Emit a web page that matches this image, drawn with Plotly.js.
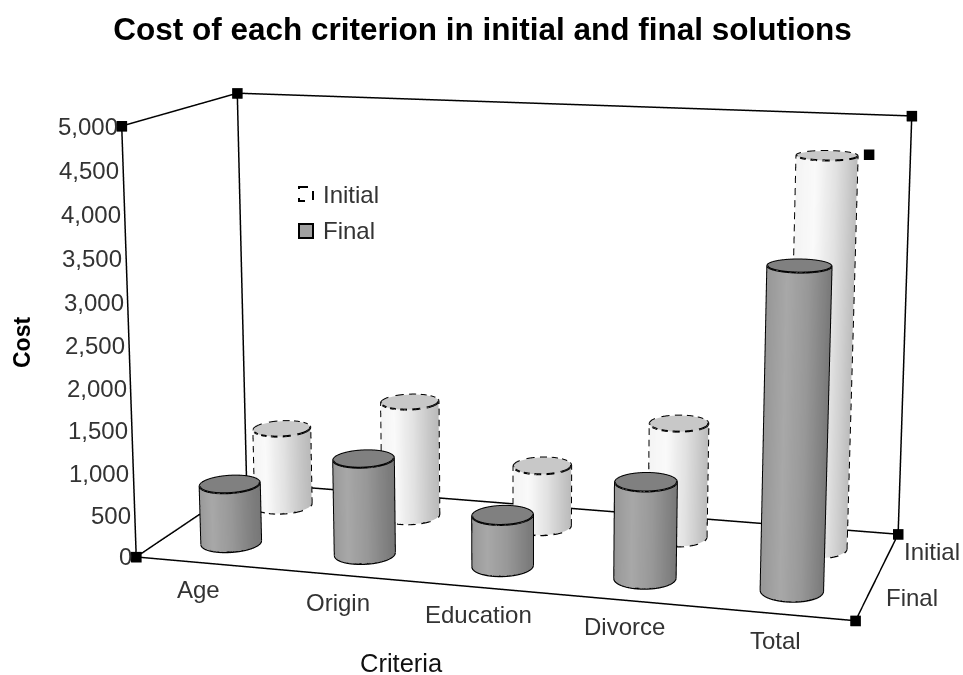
<!DOCTYPE html>
<html><head><meta charset="utf-8"><script src="https://cdn.plot.ly/plotly-3.0.1.min.js"></script>
<style>html,body{margin:0;background:#fff;overflow:hidden;width:963px;height:675px}#chart{position:absolute;left:-527px;top:-699px;width:2100px;height:2072px}</style></head><body><div id="chart"></div>
<script>
const categories=['Age','Origin','Education','Divorce','Total'];
const depthLabels=['Final','Initial'];
const initialValues=[975,1425,750,1387,4620];
const finalValues=[710,1140,600,1117,3650];
const costTicks=[0,500,1000,1500,2000,2500,3000,3500,4000,4500,5000];
const yMax=5000;
// framing: plotly's perspective lens is fixed, so the scene is larger than the window and cropped
const W=2100,H=2072,OX=-527,OY=-699;
const aspect={x:2,y:.8047,z:1.1999};
const eye={x:1.8697,y:-6.5,z:1.4444};
const n=categories.length;
const sx=aspect.x/n, sy=aspect.y/2;
const RX=.205, RY=.235, SEG=64;
const DASH_ON=7, DASH_OFF=5, PX_PER_UNIT=360;
const cam=(()=>{const l=Math.hypot(eye.x,eye.y);return{rx:-eye.y/l,ry:eye.x/l}})();
function shade(t,st){const T=[-1,-.45,.2,1];for(let i=0;i<3;i++)if(t<=T[i+1]){const f=(t-T[i])/(T[i+1]-T[i]);const v=Math.round(st[i]+f*(st[i+1]-st[i]));return`rgb(${v},${v},${v})`}return`rgb(${st[3]},${st[3]},${st[3]})`}
// screen-length estimate of a step between two points in data units
function stepPx(a,b){return Math.hypot((b[0]-a[0])*sx,(b[1]-a[1])*sy*.22,(b[2]-a[2])*aspect.z/yMax)*PX_PER_UNIT}
function dashed(poly){const out=[];let d=0,on=true;
 for(let i=1;i<poly.length;i++){let a=poly[i-1];const b=poly[i];let L=stepPx(a,b);
  if(on&&(!out.length||isNaN(out[out.length-1][0])))out.push(a);
  while(L>0){const left=(on?DASH_ON:DASH_OFF)-d;
   if(L>=left){const f=left/L,p=[a[0]+(b[0]-a[0])*f,a[1]+(b[1]-a[1])*f,a[2]+(b[2]-a[2])*f];
    if(on){out.push(p,[NaN,NaN,NaN])}else out.push(p);on=!on;d=0;a=p;L-=left;if(L<1e-9)break}
   else{d+=L;if(on)out.push(b);L=0}}}
 out.push([NaN,NaN,NaN]);return out}
function cyl(ci,si,val,st,capColor,isDashed,name){
 const cx=ci+.5,cy=si+.5,x=[],y=[],z=[],I=[],J=[],K=[],vc=[];
 const ca=a=>cx+RX*Math.cos(a),sa=a=>cy+RY*Math.sin(a);
 for(let k=0;k<=SEG;k++){const a=2*Math.PI*k/SEG;
  const t=Math.cos(a)*cam.rx+Math.sin(a)*cam.ry;const c=shade(Math.max(-1,Math.min(1,t)),st);
  x.push(ca(a),ca(a));y.push(sa(a),sa(a));z.push(0,val);vc.push(c,c);}
 for(let k=0;k<SEG;k++){const a=k*2,b=a+2;I.push(a,a+1);J.push(b,b);K.push(a+1,b+1);}
 const base=x.length;x.push(cx);y.push(cy);z.push(val);vc.push(capColor);
 for(let k=0;k<=SEG;k++){const a=2*Math.PI*k/SEG;x.push(ca(a));y.push(sa(a));z.push(val);vc.push(capColor);}
 for(let k=0;k<SEG;k++){I.push(base);J.push(base+1+k);K.push(base+2+k);}
 const mesh={type:'mesh3d',x,y,z,i:I,j:J,k:K,vertexcolor:vc,flatshading:false,name,hoverinfo:'skip',showlegend:false,
  lighting:{ambient:1,diffuse:0,specular:0,fresnel:0,roughness:1}};
 // silhouette, computed from where the camera stands
 const wx=RX*sx,wy=RY*sy,wcx=(cx-n/2)*sx,wcy=(cy-1)*sy;
 const dx=eye.x-wcx,dy=(eye.y-wcy)*wx/wy,d=Math.hypot(dx,dy),m=Math.atan2(dy,dx),o=Math.acos(wx/d);
 const arc=(a0,a1,h)=>{const p=[];for(let k=0;k<=40;k++){const a=a0+(a1-a0)*k/40;p.push([ca(a),sa(a),h])}return p};
 const polys=[arc(0,2*Math.PI,val),arc(m-o,m+o,0),
   [[ca(m-o),sa(m-o),0],[ca(m-o),sa(m-o),val]],
   [[ca(m+o),sa(m+o),0],[ca(m+o),sa(m+o),val]]];
 let pts=[];polys.forEach(p=>{pts=pts.concat(isDashed?dashed(p):p.concat([[NaN,NaN,NaN]]))});
 const line={type:'scatter3d',mode:'lines',x:pts.map(p=>p[0]),y:pts.map(p=>p[1]),z:pts.map(p=>p[2]),connectgaps:false,
  line:{color:'#000',width:4},hoverinfo:'skip',showlegend:false};
 return[mesh,line];
}
const traces=[];
categories.forEach((c,i)=>{
 traces.push(...cyl(i,1,initialValues[i],[244,250,226,186],'#c8c8c8',true,'Initial'));
 traces.push(...cyl(i,0,finalValues[i],[152,168,152,120],'#808080',false,'Final'));
});
const frame=[[0,0,0],[n,0,0],[n,2,0],[0,2,0],[0,0,0],[0,0,yMax],[0,2,yMax],[n,2,yMax],[n,2,0],[NaN,NaN,NaN],[0,2,0],[0,2,yMax]];
traces.push({type:'scatter3d',mode:'lines',x:frame.map(p=>p[0]),y:frame.map(p=>p[1]),z:frame.map(p=>p[2]),line:{color:'#000',width:3},hoverinfo:'skip',showlegend:false});
const handles=[[0,0,0],[n,0,0],[n,2,0],[0,0,yMax],[n,0,yMax],[n,2,yMax],[0,2,yMax]];
traces.push({type:'scatter3d',mode:'markers',x:handles.map(p=>p[0]),y:handles.map(p=>p[1]),z:handles.map(p=>p[2]),marker:{symbol:'square',size:5.5,color:'#000'},hoverinfo:'skip',showlegend:false});
const px=x=>(x-OX)/W, py=y=>1-(y-OY)/H;
const font={family:'Liberation Sans, Arial, sans-serif',size:24,color:'#333'};
const catShift=[[-5,27],[-2,27],[-3,27],[-3,26],[-3,27]];
const sceneAnn=[];
categories.forEach((c,i)=>sceneAnn.push({x:i+.5,y:0,z:0,text:c,showarrow:false,xshift:catShift[i][0],yshift:-catShift[i][1],font}));
costTicks.forEach(v=>sceneAnn.push({x:0,y:0,z:v,text:v.toLocaleString('en-US'),showarrow:false,xanchor:'right',xshift:-2,font}));
sceneAnn.push({x:n,y:.5,z:0,text:depthLabels[0],showarrow:false,xanchor:'left',xshift:17,yshift:0,font});
sceneAnn.push({x:n,y:1.5,z:0,text:depthLabels[1],showarrow:false,xanchor:'left',xshift:14,yshift:3,font});
const ax={visible:false,showgrid:false,zeroline:false,showbackground:false};
const layout={width:W,height:H,margin:{l:0,r:0,t:0,b:0},paper_bgcolor:'#fff',font,showlegend:false,
 title:{text:'<b>Cost of each criterion in initial and final solutions</b>',x:px(482.5),xanchor:'center',y:py(29),yanchor:'middle',yref:'container',xref:'container',font:{family:font.family,size:31.5,color:'#000'}},
 annotations:[
  {xref:'paper',yref:'paper',x:px(401),y:py(663),text:'Criteria',showarrow:false,font:{...font,size:25.5,color:'#111'}},
  {xref:'paper',yref:'paper',x:px(22),y:py(343),xanchor:'center',yanchor:'middle',text:'<b>Cost</b>',textangle:-90,showarrow:false,font:{...font,size:23,color:'#000'}},
  {xref:'paper',yref:'paper',x:px(321),y:py(194),xanchor:'left',text:'Initial',showarrow:false,font},
  {xref:'paper',yref:'paper',x:px(321),y:py(231),xanchor:'left',text:'Final',showarrow:false,font}],
 shapes:[
  {type:'rect',xref:'paper',yref:'paper',x0:px(299),x1:px(313),y0:py(187),y1:py(201),line:{color:'#000',width:2,dash:'dash'},fillcolor:'#fff'},
  {type:'rect',xref:'paper',yref:'paper',x0:px(299),x1:px(313),y0:py(224),y1:py(238),line:{color:'#000',width:2},fillcolor:'#a0a0a0'}],
 scene:{domain:{x:[0,1],y:[0,1]},aspectmode:'manual',aspectratio:aspect,annotations:sceneAnn,
  camera:{eye,center:{x:0,y:0,z:0},up:{x:0,y:0,z:1},projection:{type:'perspective'}},
  xaxis:{...ax,range:[0,n]},yaxis:{...ax,range:[0,2]},zaxis:{...ax,range:[0,yMax]}}};
Plotly.newPlot('chart',traces,layout,{displayModeBar:false});
</script></body></html>
